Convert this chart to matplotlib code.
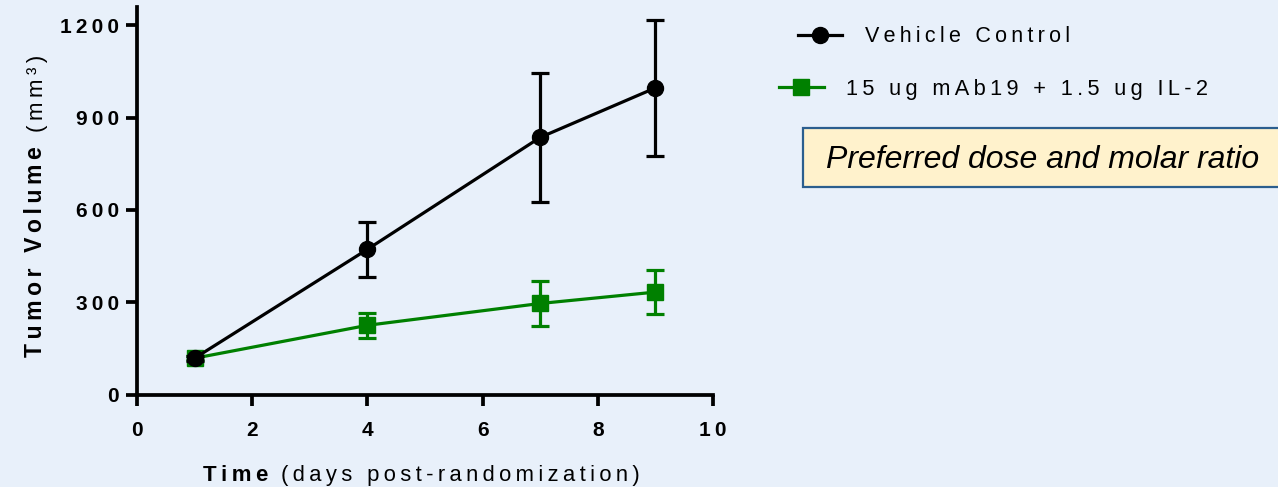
import matplotlib
matplotlib.use("Agg")
import matplotlib.pyplot as plt
from matplotlib.patches import Rectangle

plt.rcParams['font.family'] = ['Liberation Sans', 'DejaVu Sans']

# Tumor growth after randomization (mean +/- SEM)
days = [1, 4, 7, 9]
vehicle_mean = [118, 472, 836, 997]
vehicle_sem = [8, 90, 210, 222]
combo_mean = [118, 225, 296, 333]
combo_sem = [6, 40, 73, 72]

series_names = ['Vehicle Control', '15 ug mAb19 + 1.5 ug IL-2']
x_ticks = [0, 2, 4, 6, 8, 10]
y_ticks = [0, 300, 600, 900, 1200]
note = 'Preferred dose and molar ratio'

BG = '#E8F0FA'
GREEN = '#008000'
W, H = 1278, 487


def track(s, gap='\u2009'):
    # spread the letters out a little, Prism style
    return gap.join(s)


fig = plt.figure(figsize=(W / 100, H / 100), dpi=100, facecolor=BG)
ax = fig.add_axes([137 / W, 1 - 394.5 / H, (713 - 137) / W, (394.5 - 7) / H])
ax.set_facecolor(BG)

combo = ax.errorbar(days, combo_mean, yerr=combo_sem, fmt='-s', color=GREEN,
                    lw=2.3, ms=11, elinewidth=2.3, capsize=6.5, capthick=2.3,
                    zorder=3, clip_on=False)
vehicle = ax.errorbar(days, vehicle_mean, yerr=vehicle_sem, fmt='-o', color='black',
                      lw=2.3, ms=11.5, elinewidth=2.3, capsize=6.5, capthick=2.3,
                      zorder=4, clip_on=False)

ax.set_xlim(0, 10)
ax.set_ylim(0, 1260)
ax.set_xticks(x_ticks, labels=[track(str(t)) for t in x_ticks])
ax.set_yticks(y_ticks, labels=[track(str(t)) for t in y_ticks])
for s in ['top', 'right']:
    ax.spines[s].set_visible(False)
for s in ['left', 'bottom']:
    ax.spines[s].set_linewidth(2.7)
ax.tick_params(axis='both', direction='out', length=8, width=2.7, labelsize=15)
ax.tick_params(axis='x', pad=11)
ax.tick_params(axis='y', pad=5)
for lab in ax.get_xticklabels() + ax.get_yticklabels():
    lab.set_fontweight('bold')

# axis titles: bold word followed by regular text
t_time = fig.text(203 / W, 1 - 486 / H, track('Time'), fontsize=16,
                  fontweight='bold', ha='left', va='bottom')
ax.annotate(track('(days post-randomization)'), xy=(1, 0), xycoords=t_time,
            xytext=(9, 0), textcoords='offset points',
            fontsize=15.8, ha='left', va='bottom', annotation_clip=False)

t_vol = fig.text(47.5 / W, 1 - 357 / H, track('Tumor Volume'), fontsize=16.5,
                 fontweight='bold', rotation=90, rotation_mode='anchor',
                 ha='left', va='bottom')
ax.annotate(track('(mm³)'), xy=(1, 1), xycoords=t_vol,
            xytext=(0, 10), textcoords='offset points', fontsize=16,
            rotation=90, rotation_mode='anchor', ha='left', va='bottom',
            annotation_clip=False)

# legend entries, one per row
fig.legend([vehicle[0]], [track(series_names[0])], loc='center left',
           bbox_to_anchor=(798 / W, 1 - 37 / H), frameon=False, fontsize=15.5,
           borderpad=0, borderaxespad=0, handlelength=2.05, handletextpad=1.05,
           numpoints=1)
fig.legend([combo[0]], [track(series_names[1])], loc='center left',
           bbox_to_anchor=(779 / W, 1 - 89 / H), frameon=False, fontsize=15.7,
           borderpad=0, borderaxespad=0, handlelength=2.05, handletextpad=1.0,
           numpoints=1)

# highlighted note box running off the right edge
fig.patches.append(Rectangle((803 / W, 1 - 187 / H), 600 / W, 59 / H,
                             transform=fig.transFigure, facecolor='#FFF2CC',
                             edgecolor='#2B5E8E', lw=1.6, zorder=1))
fig.text(826 / W, 1 - 168 / H, note, fontsize=23, style='italic',
         ha='left', va='baseline', zorder=2)

fig.savefig('out.png', dpi=100, facecolor=BG)
